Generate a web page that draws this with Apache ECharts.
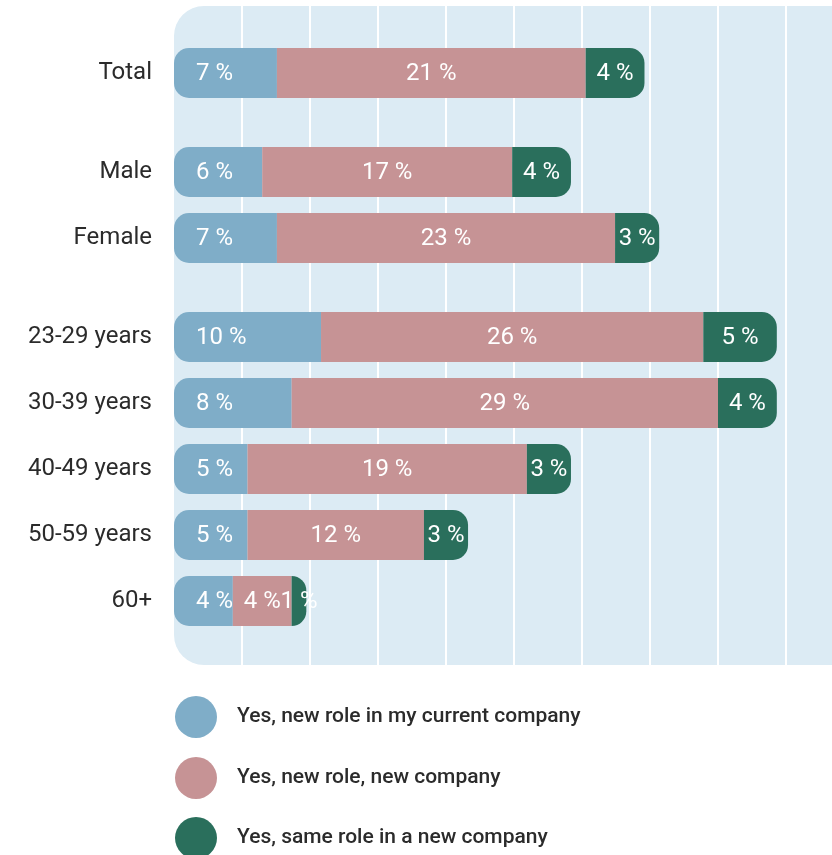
<!DOCTYPE html>
<html>
<head>
<meta charset="utf-8">
<script src="https://cdn.jsdelivr.net/npm/echarts@6/dist/echarts.min.js"></script>
<style>
  html, body { margin: 0; padding: 0; background: #ffffff; }
  #chart { width: 832px; height: 855px; }
</style>
</head>
<body>
<div id="chart"></div>
<script>
// Row labels, grouped: a wider gap separates the groups
const rowGroups = [
  ['Total'],
  ['Male', 'Female'],
  ['23-29 years', '30-39 years', '40-49 years', '50-59 years', '60+']
];

const seriesNames = [
  'Yes, new role in my current company',
  'Yes, new role, new company',
  'Yes, same role in a new company'
];

// Shares in percent, one value per row (same order as rowGroups flattened)
const currentCompany     = [7, 6, 7, 10, 8, 5, 5, 4];
const newRoleNewCompany  = [21, 17, 23, 26, 29, 19, 12, 4];
const sameRoleNewCompany = [4, 4, 3, 5, 4, 3, 3, 1];

const colors = ['#7FADC8', '#C69395', '#2A6F5C'];

// Build half-row slots: one blank slot between rows, two between groups
const slots = [];
const slotRow = [];
let rowIndex = 0;
rowGroups.forEach((group) => {
  group.forEach((label, ri) => {
    if (slots.length) {
      const gap = ri === 0 ? 2 : 1;
      for (let k = 0; k < gap; k++) { slots.push(''); slotRow.push(-1); }
    }
    slots.push(label);
    slotRow.push(rowIndex++);
  });
});
const spread = values => slotRow.map(i => (i < 0 ? '-' : values[i]));

const AXIS_MAX = 46.25;
const AXIS_STEP = 4.625;

const labelBase = {
  show: true,
  color: '#ffffff',
  fontSize: 24,
  fontFamily: 'Roboto',
  offset: [0, 1],
  formatter: p => p.value + ' %'
};

// One legend block per series, stacked downwards
const legendTops = [696, 757, 817];
const legends = seriesNames.map((name, i) => ({
  data: [name],
  orient: 'vertical',
  left: 175,
  top: legendTops[i],
  padding: 0,
  icon: 'circle',
  itemWidth: 42,
  itemHeight: 42,
  selectedMode: false,
  textStyle: { fontSize: 21, fontWeight: 500, color: '#2b2b2b', fontFamily: 'Roboto', padding: [0, 0, 0, 15] }
}));

const chart = echarts.init(document.getElementById('chart'), null, { renderer: 'canvas' });

chart.setOption({
  animation: false,
  textStyle: { fontFamily: 'Roboto' },
  graphic: [{
    type: 'rect',
    z: -10,
    silent: true,
    shape: { x: 174, y: 6, width: 686, height: 659, r: 30 },
    style: { fill: '#DCEBF4' }
  }],
  grid: [
    { left: 174, top: 6, width: 680, height: 659, outerBoundsMode: 'none', containLabel: false },
    { left: 174, top: 56.5, width: 680, height: 561, outerBoundsMode: 'none', containLabel: false }
  ],
  xAxis: [
    {
      gridIndex: 0, type: 'value', min: 0, max: AXIS_MAX, interval: AXIS_STEP,
      axisLine: { show: false }, axisTick: { show: false }, axisLabel: { show: false },
      splitLine: { show: true, showMinLine: false, lineStyle: { color: '#ffffff', width: 2 } }
    },
    {
      gridIndex: 1, type: 'value', min: 0, max: AXIS_MAX, interval: AXIS_STEP, show: false
    }
  ],
  yAxis: [
    { gridIndex: 0, type: 'value', show: false },
    {
      gridIndex: 1, type: 'category', inverse: true, data: slots,
      axisLine: { show: false }, axisTick: { show: false }, splitLine: { show: false },
      axisLabel: { interval: 0, margin: 22, fontSize: 24, color: '#2b2b2b', fontFamily: 'Roboto', padding: [4, 0, 0, 0] }
    }
  ],
  legend: legends,
  series: [
    {
      name: seriesNames[0], type: 'bar', stack: 'share', xAxisIndex: 1, yAxisIndex: 1,
      barWidth: 50, clip: false, data: spread(currentCompany),
      itemStyle: { color: colors[0], borderRadius: [15, 0, 0, 15] },
      label: Object.assign({}, labelBase, { position: 'insideLeft', distance: 22 })
    },
    {
      name: seriesNames[1], type: 'bar', stack: 'share', xAxisIndex: 1, yAxisIndex: 1,
      barWidth: 50, clip: false, data: spread(newRoleNewCompany),
      itemStyle: { color: colors[1] },
      label: Object.assign({}, labelBase, { position: 'inside' })
    },
    {
      name: seriesNames[2], type: 'bar', stack: 'share', xAxisIndex: 1, yAxisIndex: 1,
      barWidth: 50, clip: false, data: spread(sameRoleNewCompany),
      itemStyle: { color: colors[2], borderRadius: [0, 15, 15, 0] },
      label: Object.assign({}, labelBase, { position: 'inside' })
    }
  ]
});
</script>
</body>
</html>
